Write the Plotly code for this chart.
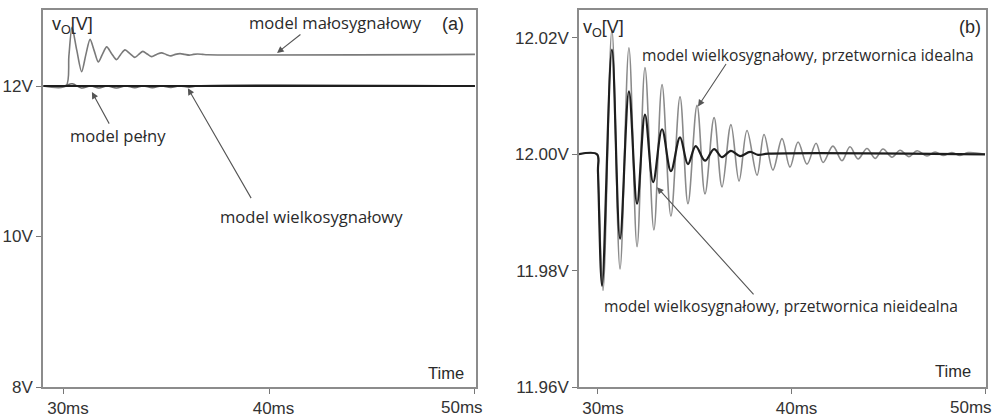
import plotly.graph_objects as go

# ---------------- data ----------------
# Panel (a)
a_small_t = [29.0, 30.1, 30.24, 30.39, 30.62, 30.86, 31.06, 31.27, 31.47, 31.67, 31.87, 32.08,
             32.32, 32.56, 32.76, 32.97, 33.21, 33.45, 33.64, 33.84, 34.05, 34.27, 34.51,
             34.75, 34.97, 35.2, 35.42, 35.65, 35.87, 36.1, 36.3, 36.5, 36.75, 37.0, 50.0]
a_small_v = [12.0, 12.0, 12.40, 12.78, 12.48, 12.19, 12.41, 12.62, 12.47, 12.32, 12.42, 12.52,
             12.43, 12.35, 12.42, 12.48, 12.43, 12.38, 12.42, 12.46, 12.425, 12.39, 12.42,
             12.44, 12.42, 12.40, 12.42, 12.43, 12.42, 12.41, 12.42, 12.425, 12.42, 12.415,
             12.42]

a_full_t = [29.0, 30.0, 30.4, 30.85, 31.3, 31.7, 32.1, 32.55, 33.0, 33.45, 33.85, 34.3,
            34.75, 35.2, 35.6, 36.1, 36.5, 50.0]
a_full_v = [12.0, 12.0, 12.03, 11.975, 12.0, 11.975, 12.0, 11.975, 12.0, 11.977, 12.0,
            11.978, 12.0, 11.98, 12.0, 11.985, 12.0, 12.0]

a_large_t = [29.0, 50.0]
a_large_v = [12.0, 12.0]

# Panel (b)
b_ideal_t = [29.0, 29.95, 30.0, 30.26, 30.72, 31.14, 31.60, 32.02, 32.43, 32.89, 33.31, 33.77,
             34.24, 34.65, 35.12, 35.53, 36.0, 36.41, 36.87, 37.29, 37.70, 38.22, 38.58,
             39.04, 39.51, 39.92, 40.34, 40.80, 41.27, 41.63, 42.14, 42.61, 43.02, 43.44,
             43.90, 44.32, 44.73, 45.19, 45.61, 46.07, 46.49, 47.0, 47.42, 47.83, 48.29,
             48.71, 49.12, 50.0]
b_ideal_v = [12.0, 12.0, 11.997, 11.9766, 12.0214, 11.9803, 12.0183, 11.9841, 12.0149, 11.9870,
             12.0120, 11.9894, 12.0099, 11.9915, 12.0084, 11.9932, 12.0063, 11.9944, 12.0051,
             11.9954, 12.0041, 11.9964, 12.0034, 11.9973, 12.0027, 11.9978, 12.0021, 11.9983,
             12.0019, 11.9986, 12.0014, 11.9989, 12.0013, 11.9992, 12.0010, 11.9993, 12.0009,
             11.9995, 12.0007, 11.9996, 12.0006, 11.9997, 12.0004, 11.9998, 12.0003, 11.9998,
             12.0003, 12.0]

b_nonideal_t = [29.0, 29.95, 30.0, 30.21, 30.72, 31.14, 31.60, 32.02, 32.43, 32.85, 33.31,
                33.77, 34.24, 34.65, 35.05, 35.53, 36.0, 36.41, 36.87, 37.34, 37.86, 38.27,
                38.8, 50.0]
b_nonideal_v = [12.0, 12.0, 11.997, 11.9774, 12.0180, 11.9855, 12.0108, 11.9915, 12.0068,
                11.9952, 12.0043, 11.9971, 12.0029, 11.9983, 12.0014, 11.9989, 12.0009,
                11.9995, 12.0006, 11.9997, 12.0004, 11.9999, 12.0001, 12.0]

# ticks
x_tickvals = [30, 40, 50]
x_ticktext = ["30ms", "40ms", "50ms"]
a_y_tickvals = [8, 10, 12]
a_y_ticktext = ["8V", "10V", "12V"]
b_y_tickvals = [11.96, 11.98, 12.00, 12.02]
b_y_ticktext = ["11.96V", "11.98V", "12.00V", "12.02V"]

W, H = 995, 417

fig = go.Figure()

# panel a traces
fig.add_trace(go.Scatter(x=a_small_t, y=a_small_v, mode="lines",
                         line=dict(color="#7a7a7a", width=1.6, shape="spline", smoothing=0.8),
                         xaxis="x", yaxis="y", showlegend=False))
fig.add_trace(go.Scatter(x=a_full_t, y=a_full_v, mode="lines",
                         line=dict(color="#666666", width=1.5, shape="spline", smoothing=1.0),
                         xaxis="x", yaxis="y", showlegend=False))
fig.add_trace(go.Scatter(x=a_large_t, y=a_large_v, mode="lines",
                         line=dict(color="#1e1e1e", width=2.0),
                         xaxis="x", yaxis="y", showlegend=False))

# panel b traces
fig.add_trace(go.Scatter(x=b_ideal_t, y=b_ideal_v, mode="lines",
                         line=dict(color="#8a8a8a", width=1.6, shape="spline", smoothing=1.0),
                         xaxis="x2", yaxis="y2", showlegend=False))
fig.add_trace(go.Scatter(x=b_nonideal_t, y=b_nonideal_v, mode="lines",
                         line=dict(color="#1e1e1e", width=2.2, shape="spline", smoothing=1.0),
                         xaxis="x2", yaxis="y2", showlegend=False))

tick_font = dict(family="Liberation Sans, Arial", size=17, color="#333333")
axis_common = dict(showgrid=False, zeroline=False, showline=True, linecolor="#8c8c8c",
                   linewidth=1.5, mirror=True, ticks="outside", ticklen=5,
                   tickcolor="#777777", tickwidth=1, automargin=False,
                   ticklabeloverflow="allow", tickfont=tick_font)

# the last x label is drawn separately (shifted left to stay inside the page)
x_ticktext_axis = x_ticktext[:-1] + [""]

ydom = [30 / H, 407 / H]
fig.update_layout(
    width=W, height=H, margin=dict(l=0, r=0, t=0, b=0, autoexpand=False),
    paper_bgcolor="white", plot_bgcolor="white",
    xaxis=dict(domain=[43 / W, 476 / W], range=[28.98, 50.05], tickvals=x_tickvals,
               ticktext=x_ticktext_axis, ticklabelshift=4, anchor="y", **axis_common),
    yaxis=dict(domain=ydom, range=[8.0, 13.01], tickvals=a_y_tickvals,
               ticktext=a_y_ticktext, anchor="x", **axis_common),
    xaxis2=dict(domain=[579 / W, 986 / W], range=[29.02, 50.05], tickvals=x_tickvals,
                ticktext=x_ticktext_axis, ticklabelshift=5, anchor="y2", **axis_common),
    yaxis2=dict(domain=ydom, range=[11.96, 12.0248], tickvals=b_y_tickvals,
                ticktext=b_y_ticktext, anchor="x2", **axis_common),
)

txt_font_a = dict(family="Open Sans", size=16.6, color="#2a2a2a")
txt_font_b = dict(family="Open Sans", size=15.6, color="#2a2a2a")
lab_font = dict(family="Liberation Sans, Arial", size=18, color="#2a2a2a")
time_font = dict(family="Liberation Sans, Arial", size=16.5, color="#2a2a2a")

ann = []
# last x tick labels
ann.append(dict(x=49.37, y=10 / H, xref="x", yref="paper", text=x_ticktext[-1],
                showarrow=False, font=tick_font, yanchor="middle"))
ann.append(dict(x=49.28, y=10 / H, xref="x2", yref="paper", text=x_ticktext[-1],
                showarrow=False, font=tick_font, yanchor="middle"))
# panel a texts
ann.append(dict(x=43.19, y=12.84, xref="x", yref="y", text="model małosygnałowy",
                showarrow=False, font=txt_font_a))
ann.append(dict(x=32.63, y=11.34, xref="x", yref="y", text="model pełny",
                showarrow=False, font=txt_font_a))
ann.append(dict(x=42.04, y=10.27, xref="x", yref="y", text="model wielkosygnałowy",
                showarrow=False, font=txt_font_a))
ann.append(dict(x=48.93, y=12.82, xref="x", yref="y", text="(a)",
                showarrow=False, font=lab_font))
ann.append(dict(x=48.61, y=8.19, xref="x", yref="y", text="Time",
                showarrow=False, font=time_font))
ann.append(dict(x=29.32, y=12.80, xref="x", yref="y", text="v<sub>O</sub>[V]",
                xanchor="left", showarrow=False, font=lab_font))
# panel a arrows
arrow_style = dict(text="", showarrow=True, arrowhead=2, arrowsize=1.2, arrowwidth=1.1,
                   arrowcolor="#555555", standoff=0, startstandoff=0)
ann.append(dict(x=40.37, y=12.44, ax=41.58, ay=12.70, xref="x", yref="y",
                axref="x", ayref="y", **arrow_style))
ann.append(dict(x=31.36, y=11.92, ax=32.24, ay=11.48, xref="x", yref="y",
                axref="x", ayref="y", **arrow_style))
ann.append(dict(x=36.03, y=11.97, ax=39.15, ay=10.49, xref="x", yref="y",
                axref="x", ayref="y", **arrow_style))

# panel b texts
ann.append(dict(x=40.85, y=12.01714, xref="x2", yref="y2",
                text="model wielkosygnałowy, przetwornica idealna",
                showarrow=False, font=txt_font_b))
ann.append(dict(x=39.48, y=11.97394, xref="x2", yref="y2",
                text="model wielkosygnałowy, przetwornica nieidealna",
                showarrow=False, font=txt_font_b))
ann.append(dict(x=49.22, y=12.02194, xref="x2", yref="y2", text="(b)",
                showarrow=False, font=lab_font))
ann.append(dict(x=48.37, y=11.9628, xref="x2", yref="y2", text="Time",
                showarrow=False, font=time_font))
ann.append(dict(x=29.12, y=12.0216, xref="x2", yref="y2", text="v<sub>O</sub>[V]",
                xanchor="left", showarrow=False, font=lab_font))
# panel b arrows
ann.append(dict(x=35.17, y=12.00823, ax=36.67, ay=12.01577, xref="x2", yref="y2",
                axref="x2", ayref="y2", **arrow_style))
ann.append(dict(x=33.05, y=11.99434, ax=38.11, ay=11.97566, xref="x2", yref="y2",
                axref="x2", ayref="y2", **arrow_style))

fig.update_layout(annotations=ann)

fig.write_html("out.html")
